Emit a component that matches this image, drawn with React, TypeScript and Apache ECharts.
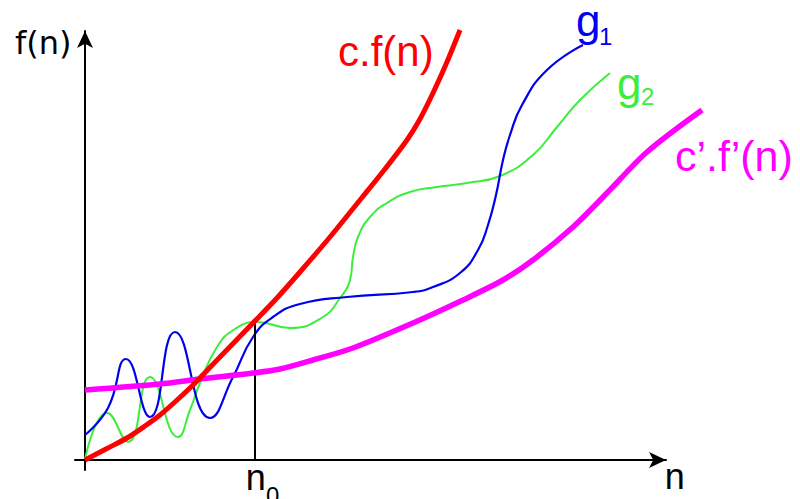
import React, { useEffect, useRef } from "react";
import * as echarts from "echarts";

// Curves as [n, value] pairs (axis units)
const redCF: [number, number][] = [
  [0, 0], [4.2, 2.2], [8.4, 4.4], [12, 6.8], [15, 9], [18.2, 11.8], [21.6, 15],
  [27, 20.6], [33.6, 27.4], [38.4, 32.4], [43, 37.6], [49, 44.6], [55, 52],
  [60, 58.2], [64.4, 64], [67, 68.2], [69.6, 73.4], [72.4, 79.6], [75, 86],
];
const magentaCF: [number, number][] = [
  [0, 14], [15, 15.2], [23, 16.2], [33.6, 17.4], [39, 18.2], [45.6, 20],
  [53.6, 22.4], [65.6, 27.4], [75.6, 32], [83.6, 36], [89.6, 40], [97.6, 46.6],
  [104.4, 53.4], [112.4, 61.6], [123.4, 70],
];
const blueG1: [number, number][] = [
  [0, 5], [4.6, 10.4], [8.2, 20.2], [13, 8.6], [18, 25.6], [25, 8.4],
  [29.6, 16.6], [33.6, 24.6], [37.6, 28.6], [43, 31.2], [52.4, 32.6],
  [65.6, 33.6], [69.6, 34.6], [75, 37.4], [78.6, 42], [80.6, 47], [82.2, 53],
  [83.6, 60], [85, 65], [87.4, 71], [92.4, 78], [99.6, 83],
];
const greenG2: [number, number][] = [
  [0, 0.2], [4.4, 9.4], [8.6, 3.6], [13, 16.6], [18.6, 4.6], [21, 10],
  [23, 15.4], [26.4, 22.6], [30, 26.2], [34.4, 27.6], [41, 26.4], [47.6, 28.6],
  [51, 32.4], [53, 36], [53.6, 40.6], [54.6, 44.6], [57, 48.6], [60.4, 51.4],
  [65, 53.6], [70.4, 54.6], [76.4, 55.4], [83, 56.8], [89.6, 61], [94.4, 66.6],
  [99, 72], [105, 77.4],
];
const n0Line: [number, number][] = [[34, 0], [34, 27.8]];

const FONT = "'Liberation Sans', Arial, sans-serif";

export default function App() {
  const ref = useRef<HTMLDivElement>(null);
  useEffect(() => {
    if (!ref.current) return;
    const chart = echarts.init(ref.current, undefined, { renderer: "svg" });
    const axisCommon = {
      type: "value" as const,
      axisLine: {
        show: true,
        onZero: true,
        symbol: ["none", "arrow"],
        symbolSize: [12, 17],
        lineStyle: { color: "#000", width: 2 },
      },
      axisTick: { show: false },
      axisLabel: { show: false },
      splitLine: { show: false },
    };
    const hidden = {
      type: "value" as const,
      show: false,
      axisLine: { show: false },
      axisTick: { show: false },
      axisLabel: { show: false },
      splitLine: { show: false },
    };
    const txt = (text: string, x: number, y: number, size: number, color: string, family = FONT) => ({
      type: "text",
      x,
      y,
      style: { text, fill: color, font: `${size}px ${family}`, textVerticalAlign: "middle", verticalAlign: "middle" },
      z: 100,
    });
    const s = (name: string, data: [number, number][], color: string, width: number, smooth: number | boolean, z: number) => ({
      name, type: "line", data, smooth, symbol: "none", clip: false,
      xAxisIndex: 1, yAxisIndex: 1,
      lineStyle: { color, width }, z,
    });
    chart.setOption({
      animation: false,
      backgroundColor: "#fff",
      grid: [
        { left: 75, right: 134, top: 31, bottom: 29, containLabel: false },
        { left: 75, right: 85, top: 31, bottom: 29, containLabel: false },
      ],
      xAxis: [
        { ...axisCommon, gridIndex: 0, min: -2, max: 116.2 },
        { ...hidden, gridIndex: 1, min: -2, max: 126 },
      ],
      yAxis: [
        { ...axisCommon, gridIndex: 0, min: -2, max: 85.8 },
        { ...hidden, gridIndex: 1, min: -2, max: 85.8 },
      ],
      series: [
        s("g2", greenG2, "#3ded3d", 2, 0.5, 2),
        s("g1", blueG1, "#0000ee", 2.2, 0.5, 3),
        s("n0", n0Line, "#000", 2, false, 3),
        s("c'.f'(n)", magentaCF, "#ff00ff", 5.5, 0.3, 4),
        s("c.f(n)", redCF, "#ff0000", 5, 0.3, 5),
      ],
      graphic: [
        txt("f(n)", 15, 42.8, 32, "#000", "'DejaVu Sans', sans-serif"),
        txt("c.f(n)", 338, 51.4, 42, "#ff0000"),
        txt("g", 576, 20.8, 44, "#0000ee"),
        txt("1", 599, 36.2, 24, "#0000ee"),
        txt("g", 617, 83.8, 44, "#3ded3d"),
        txt("2", 641, 96.7, 24, "#3ded3d"),
        txt("c\u2019.f\u2019(n)", 675, 156, 43, "#ff00ff"),
        txt("n", 664.7, 476.5, 36, "#000"),
        txt("n", 245.7, 477.5, 36, "#000"),
        txt("0", 266, 495.7, 24, "#000"),
      ],
    });
    return () => chart.dispose();
  }, []);
  return (
    <div
      ref={ref}
      style={{ position: "fixed", left: 0, top: 0, width: 800, height: 499, background: "#fff" }}
    />
  );
}
